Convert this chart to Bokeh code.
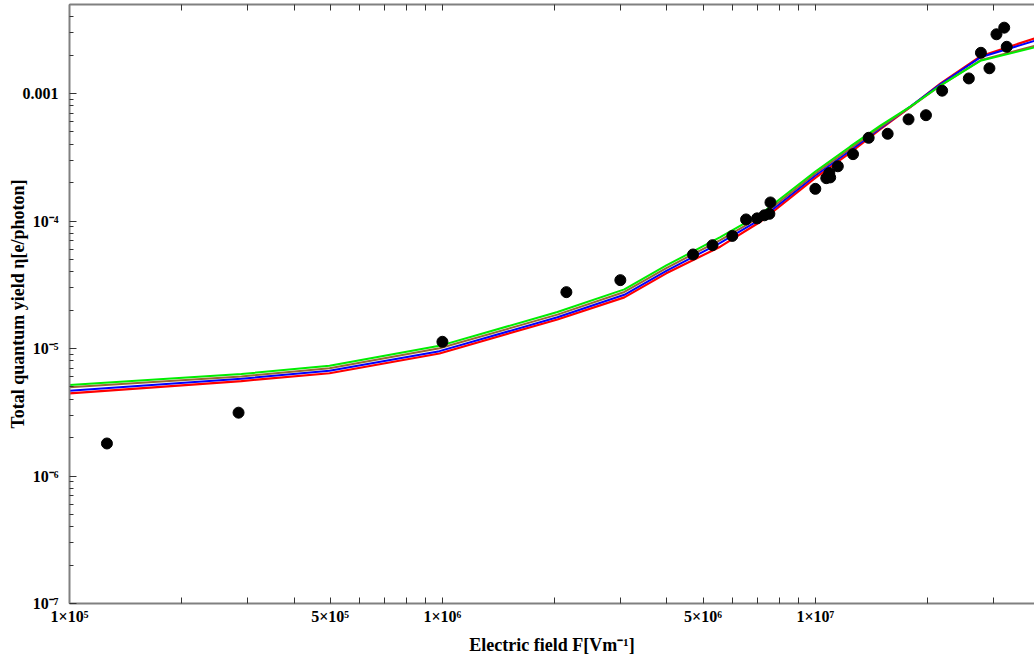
from bokeh.plotting import figure
from bokeh.models import LogAxis, FixedTicker, Range1d, CustomLabelingPolicy
from bokeh.embed import file_html
from bokeh.resources import INLINE

# measured data points
field_pts = [1.26e5, 2.84e5, 1.0e6, 2.15e6, 3.0e6, 4.70e6, 5.30e6, 5.99e6, 6.52e6,
             6.98e6, 7.30e6, 7.53e6, 7.58e6, 1.0e7, 1.07e7, 1.09e7, 1.096e7, 1.149e7,
             1.262e7, 1.39e7, 1.563e7, 1.778e7, 1.98e7, 2.188e7, 2.58e7, 2.78e7,
             2.93e7, 3.06e7, 3.21e7, 3.26e7]
yield_pts = [1.80e-6, 3.14e-6, 1.13e-5, 2.77e-5, 3.44e-5, 5.47e-5, 6.47e-5, 7.65e-5, 1.03e-4,
             1.05e-4, 1.11e-4, 1.14e-4, 1.40e-4, 1.79e-4, 2.17e-4, 2.38e-4, 2.20e-4, 2.69e-4,
             3.35e-4, 4.50e-4, 4.84e-4, 6.28e-4, 6.77e-4, 1.054e-3, 1.315e-3, 2.09e-3,
             1.58e-3, 2.92e-3, 3.29e-3, 2.33e-3]

# model curves
curve_field = [1.0e5, 2.89e5, 4.98e5, 9.82e5, 2.034e6, 3.075e6, 3.985e6, 5.56e6, 7.12e6,
               1.0e7, 1.241e7, 1.494e7, 1.797e7, 2.163e7, 2.77e7, 3.87e7]
curve_green = [5.17e-6, 6.31e-6, 7.32e-6, 1.050e-5, 1.936e-5, 2.91e-5, 4.49e-5, 7.47e-5, 1.130e-4,
               2.45e-4, 3.85e-4, 5.61e-4, 7.90e-4, 1.153e-3, 1.808e-3, 2.306e-3]
curve_brown = [4.96e-6, 6.04e-6, 7.00e-6, 1.004e-5, 1.845e-5, 2.78e-5, 4.28e-5, 7.10e-5, 1.080e-4,
               2.36e-4, 3.71e-4, 5.46e-4, 7.83e-4, 1.153e-3, 1.824e-3, 2.368e-3]
curve_blue = [4.67e-6, 5.80e-6, 6.69e-6, 9.54e-6, 1.760e-5, 2.64e-5, 4.07e-5, 6.75e-5, 1.033e-4,
              2.28e-4, 3.58e-4, 5.36e-4, 7.90e-4, 1.184e-3, 1.926e-3, 2.592e-3]
curve_red = [4.45e-6, 5.56e-6, 6.40e-6, 9.14e-6, 1.692e-5, 2.52e-5, 3.89e-5, 6.30e-5, 9.87e-5,
             2.18e-4, 3.45e-4, 5.27e-4, 7.83e-4, 1.195e-3, 1.961e-3, 2.71e-3]

# ticks
x_tick_values = [1e5, 5e5, 1e6, 5e6, 1e7]
x_tick_labels = ["1×10⁵", "5×10⁵", "1×10⁶", "5×10⁶", "1×10⁷"]
x_minor_values = [2e5, 3e5, 4e5, 6e5, 7e5, 8e5, 9e5, 2e6, 3e6, 4e6, 6e6, 7e6, 8e6, 9e6, 2e7, 3e7]
y_tick_values = [1e-7, 1e-6, 1e-5, 1e-4, 1e-3]
y_tick_labels = ["10⁻⁷", "10⁻⁶", "10⁻⁵", "10⁻⁴", "0.001"]
y_minor_values = [m * d for d in [1e-7, 1e-6, 1e-5, 1e-4] for m in range(2, 10)] + [2e-3, 3e-3, 4e-3]

FONT = "Liberation Serif"
AXIS_GREY = "#808080"
TICK_COL = "#333333"

p = figure(width=1034, height=657, x_axis_type="log", y_axis_type="log",
           x_range=Range1d(1e5, 3.87e7), y_range=Range1d(1e-7, 5.0e-3),
           output_backend="svg", toolbar_location=None,
           min_border_left=69, min_border_right=0, min_border_top=3, min_border_bottom=53)
p.outline_line_color = None
p.grid.visible = False
p.background_fill_color = "white"
p.border_fill_color = "white"

xt = FixedTicker(ticks=x_tick_values, minor_ticks=x_minor_values)
yt = FixedTicker(ticks=y_tick_values, minor_ticks=y_minor_values)

xa = p.xaxis[0]
xa.ticker = xt
xa.major_label_overrides = dict(zip(x_tick_values, x_tick_labels))
xa.axis_label = "Electric field F[Vm⁻¹]"
ya = p.yaxis[0]
ya.ticker = yt
ya.major_label_overrides = dict(zip(y_tick_values, y_tick_labels))
ya.axis_label = "Total quantum yield η[e/photon]"

for ax in (xa, ya):
    ax.axis_line_color = AXIS_GREY
    ax.axis_line_width = 2
    ax.major_tick_line_color = TICK_COL
    ax.minor_tick_line_color = TICK_COL
    ax.major_tick_out = 0
    ax.minor_tick_out = 0
    ax.major_label_text_font = FONT
    ax.major_label_text_font_style = "bold"
    ax.major_label_text_font_size = "16px"
    ax.major_label_text_color = "black"
    ax.axis_label_text_font = FONT
    ax.axis_label_text_font_style = "bold"
    ax.axis_label_text_font_size = "18px"
    ax.axis_label_text_color = "black"

xa.major_tick_in = 6
xa.minor_tick_in = 6
xa.major_label_standoff = 4
xa.axis_label_standoff = 7
ya.major_tick_in = 7
ya.minor_tick_in = 4
ya.major_label_standoff = 11
ya.axis_label_standoff = -8

top = LogAxis(ticker=FixedTicker(ticks=x_tick_values, minor_ticks=x_minor_values))
top.axis_line_color = AXIS_GREY
top.axis_line_width = 2
top.major_tick_line_color = TICK_COL
top.minor_tick_line_color = TICK_COL
top.major_tick_out = 0
top.minor_tick_out = 0
top.major_tick_in = 6
top.minor_tick_in = 6
top.major_label_text_font_size = "1px"
top.major_label_standoff = 0
top.major_label_policy = CustomLabelingPolicy(code="return new Set()")
p.add_layout(top, "above")

p.line(curve_field, curve_red, line_color="#FF0000", line_width=2.2)
p.line(curve_field, curve_blue, line_color="#0000FF", line_width=2)
p.line(curve_field, curve_brown, line_color="#996633", line_width=2)
p.line(curve_field, curve_green, line_color="#00EE00", line_width=2)

p.scatter(field_pts, yield_pts, size=11, fill_color="black", line_color="black")

open("out.html", "w").write(file_html(p, INLINE))
